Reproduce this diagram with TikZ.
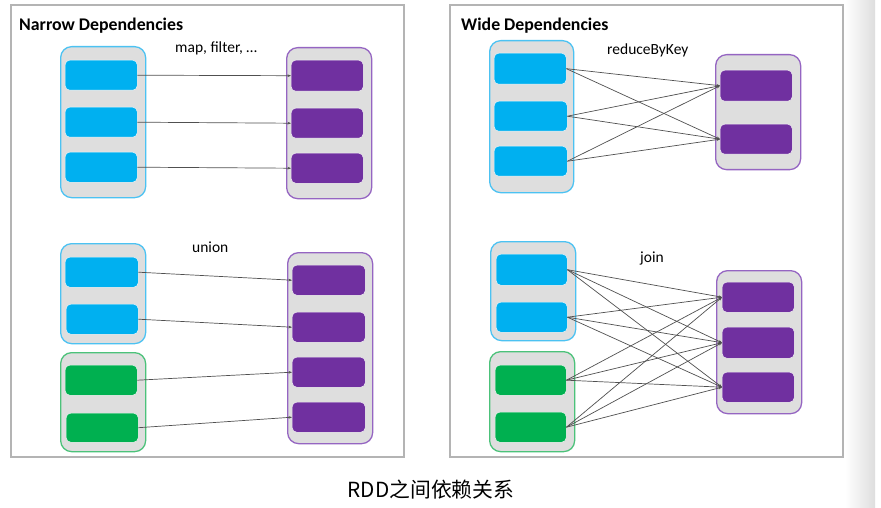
\documentclass[tikz,border=0pt]{standalone}
\usepackage{fontspec}
\setmainfont{Carlito}
\newfontfamily\cjkfont{Noto Sans CJK SC}
\usetikzlibrary{arrows.meta}
\definecolor{cellblue}{HTML}{00B0F0}
\definecolor{cellpurple}{HTML}{7030A0}
\definecolor{cellgreen}{HTML}{00B050}
\definecolor{contgray}{HTML}{DEDEDE}
\definecolor{bordblue}{HTML}{4CC2F2}
\definecolor{bordpurple}{HTML}{9565C2}
\definecolor{bordgreen}{HTML}{4CC27A}
\definecolor{framegray}{HTML}{B4B4B4}
\definecolor{linegray}{HTML}{505050}
\tikzset{
  cont/.style={rounded corners=11pt, fill=contgray, line width=1.3pt, anchor=north west, inner sep=0pt},
  contb/.style={cont, draw=bordblue},
  contp/.style={cont, draw=bordpurple},
  contg/.style={cont, draw=bordgreen},
  cell/.style={rounded corners=4.5pt, anchor=north west, inner sep=0pt, draw=white!85!contgray, line width=0.4pt},
  cb/.style={cell, fill=cellblue},
  cp/.style={cell, fill=cellpurple},
  cg/.style={cell, fill=cellgreen},
  dep/.style={draw=linegray, line width=0.7pt, -{Stealth[length=3.5pt,width=2.6pt]}},
  frame/.style={draw=framegray, line width=1.2pt, fill=white},
  title/.style={font=\bfseries\fontsize{17.8}{21}\selectfont, anchor=base west, inner sep=0pt},
  lbl/.style={font=\fontsize{15.5}{18}\selectfont, anchor=base west, inner sep=0pt}
}
\begin{document}
\begin{tikzpicture}[x=1pt,y=-1pt]
\useasboundingbox (0,0) rectangle (881,508);
\fill[white] (0,0) rectangle (881,508);
% right edge shading
\shade[left color=white, right color=black!13] (845,0) rectangle (875,508);
% frames
\draw[frame] (11,5) rectangle (404,457);
\draw[frame] (450,5) rectangle (843,457);
\node[title] (tn) at (19,31) {Narrow Dependencies};
\node[title] (tw) at (461,31) {Wide Dependencies};
\node[lbl] (lmap) at (175,53) {map, filter, \dots};
\node[lbl] (lred) at (607,55) {reduceByKey};
\node[lbl] (lun) at (192,252) {union};
\node[lbl] (ljoin) at (640,262) {join};

% ---------- Narrow top ----------
\node[contb, minimum width=85pt, minimum height=151pt] (nA) at (60,46) {};
\node[cb, minimum width=72pt, minimum height=30pt] (a1) at (65,60) {};
\node[cb, minimum width=72pt, minimum height=30pt] (a2) at (65,107) {};
\node[cb, minimum width=72pt, minimum height=30pt] (a3) at (65,152) {};
\node[contp, minimum width=85pt, minimum height=151pt] (nP) at (286,47) {};
\node[cp, minimum width=72pt, minimum height=31pt] (p1) at (291,60) {};
\node[cp, minimum width=72pt, minimum height=30pt] (p2) at (291,108) {};
\node[cp, minimum width=72pt, minimum height=30pt] (p3) at (291,153) {};
\foreach \i in {1,2,3} \draw[dep] (a\i.east) -- (p\i.west);

% ---------- Narrow bottom ----------
\node[contb, minimum width=85pt, minimum height=100pt] (nB) at (60,243) {};
\node[cb, minimum width=73pt, minimum height=30pt] (b1) at (65,257) {};
\node[cb, minimum width=72pt, minimum height=30pt] (b2) at (66,304) {};
\node[contg, minimum width=85pt, minimum height=99pt] (nG) at (60,352) {};
\node[cg, minimum width=72pt, minimum height=30pt] (g1) at (65,365) {};
\node[cg, minimum width=72pt, minimum height=29pt] (g2) at (66,413) {};
\node[contp, minimum width=85pt, minimum height=191pt] (nQ) at (287,252) {};
\node[cp, minimum width=73pt, minimum height=30pt] (q1) at (292,265) {};
\node[cp, minimum width=73pt, minimum height=30pt] (q2) at (292,312) {};
\node[cp, minimum width=73pt, minimum height=30pt] (q3) at (292,357) {};
\node[cp, minimum width=73pt, minimum height=30pt] (q4) at (292,402) {};
\draw[dep] (b1.east) -- (q1.west);
\draw[dep] (b2.east) -- (q2.west);
\draw[dep] (g1.east) -- (q3.west);
\draw[dep] (g2.east) -- (q4.west);

% ---------- Wide top ----------
\node[contb, minimum width=84pt, minimum height=152pt] (wA) at (489,40) {};
\node[cb, minimum width=72pt, minimum height=31pt] (c1) at (494,53) {};
\node[cb, minimum width=73pt, minimum height=30pt] (c2) at (494,101) {};
\node[cb, minimum width=73pt, minimum height=30pt] (c3) at (494,146) {};
\node[contp, minimum width=85pt, minimum height=115pt] (wP) at (715,54) {};
\node[cp, minimum width=72pt, minimum height=31pt] (r1) at (720,70) {};
\node[cp, minimum width=72pt, minimum height=30pt] (r2) at (720,124) {};
\foreach \i in {1,2,3} \foreach \j in {1,2} \draw[dep] (c\i.east) -- (r\j.west);

% ---------- Wide bottom ----------
\node[contb, minimum width=85pt, minimum height=99pt] (wB) at (490,241) {};
\node[cb, minimum width=71pt, minimum height=31pt] (d1) at (496,254) {};
\node[cb, minimum width=71pt, minimum height=30pt] (d2) at (496,302) {};
\node[contg, minimum width=85pt, minimum height=100pt] (wG) at (489,351) {};
\node[cg, minimum width=71pt, minimum height=30pt] (e1) at (495,365) {};
\node[cg, minimum width=71pt, minimum height=30pt] (e2) at (495,412) {};
\node[contp, minimum width=85pt, minimum height=143pt] (wQ) at (716,270) {};
\node[cp, minimum width=72pt, minimum height=30pt] (s1) at (722,282) {};
\node[cp, minimum width=72pt, minimum height=31pt] (s2) at (722,327) {};
\node[cp, minimum width=72pt, minimum height=30pt] (s3) at (722,372) {};
\foreach \src in {d1,d2,e1,e2} \foreach \j in {1,2,3} \draw[dep] (\src.east) -- (s\j.west);

% caption
\node[font=\cjkfont\fontsize{20.8}{24}\selectfont, anchor=base, inner sep=0pt] (cap) at (431,497) {RDD之间依赖关系};
\end{tikzpicture}
\end{document}
